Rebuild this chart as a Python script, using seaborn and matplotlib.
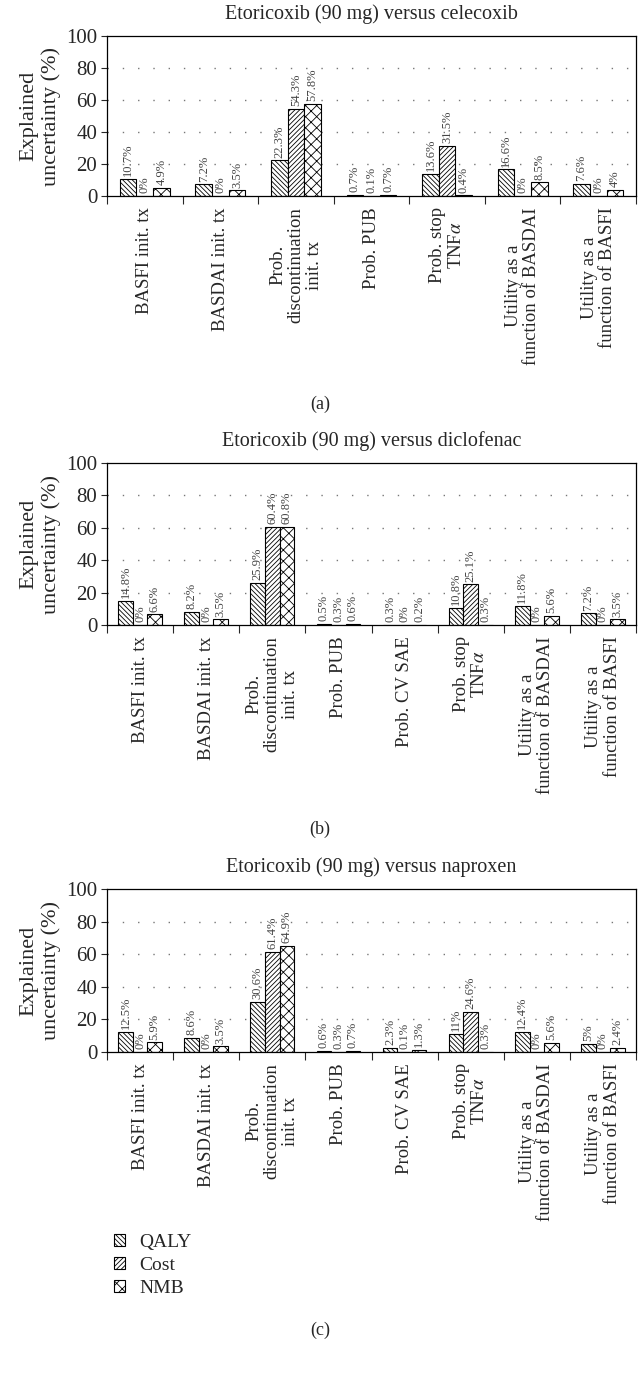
import pandas as pd
import seaborn as sns
import matplotlib.pyplot as plt
from matplotlib.patches import Patch
import numpy as np

series = ['QALY', 'Cost', 'NMB']
hatches = ['\\' * 7, '/' * 7, 'xxx']

cats_a = ['BASFI init. tx', 'BASDAI init. tx', 'Prob.\ndiscontinuation\ninit. tx', 'Prob. PUB',
          'Prob. stop\nTNF$\\alpha$', 'Utility as a\nfunction of BASDAI', 'Utility as a\nfunction of BASFI']
qaly_a = [10.7, 7.2, 22.3, 0.7, 13.6, 16.6, 7.6]
cost_a = [0, 0, 54.3, 0.1, 31.5, 0, 0]
nmb_a = [4.9, 3.5, 57.8, 0.7, 0.4, 8.5, 4]

cats_bc = ['BASFI init. tx', 'BASDAI init. tx', 'Prob.\ndiscontinuation\ninit. tx', 'Prob. PUB', 'Prob. CV SAE',
           'Prob. stop\nTNF$\\alpha$', 'Utility as a\nfunction of BASDAI', 'Utility as a\nfunction of BASFI']
qaly_b = [14.8, 8.2, 25.9, 0.5, 0.3, 10.8, 11.8, 7.2]
cost_b = [0, 0, 60.4, 0.3, 0, 25.1, 0, 0]
nmb_b = [6.6, 3.5, 60.8, 0.6, 0.2, 0.3, 5.6, 3.5]

qaly_c = [12.5, 8.6, 30.6, 0.6, 2.3, 11, 12.4, 5]
cost_c = [0, 0, 61.4, 0.3, 0.1, 24.6, 0, 0]
nmb_c = [5.9, 3.5, 64.9, 0.7, 1.3, 0.3, 5.6, 2.4]

titles = ['Etoricoxib (90 mg) versus celecoxib',
          'Etoricoxib (90 mg) versus diclofenac',
          'Etoricoxib (90 mg) versus naproxen']
panel_tags = ['(a)', '(b)', '(c)']

sns.set_style('white')
plt.rcParams['font.family'] = ['Liberation Serif', 'DejaVu Serif']
plt.rcParams['mathtext.fontset'] = 'stix'
plt.rcParams['hatch.linewidth'] = 0.6


def make_df(cats, qaly, cost, nmb):
    rows = []
    for name, vals in zip(series, [qaly, cost, nmb]):
        for c, v in zip(cats, vals):
            rows.append({'Parameter': c, 'Measure': name, 'Value': v})
    return pd.DataFrame(rows)


def draw_panel(ax, df, cats, title):
    sns.barplot(data=df, x='Parameter', y='Value', hue='Measure', order=cats, hue_order=series,
                palette=['white'] * 3, edgecolor='black', linewidth=0.8, width=0.66, gap=0,
                legend=False, ax=ax)
    for cont, h, name in zip(ax.containers, hatches, series):
        for bar in cont:
            bar.set_hatch(h)
        vals = df[df['Measure'] == name]['Value'].tolist()
        ax.bar_label(cont, labels=[f'{v:g}%' for v in vals], rotation=90, padding=2,
                     fontsize=9, color='#444444')
    n = len(cats)
    ax.set_xlim(-0.5, n - 0.5)
    ax.set_ylim(0, 100)
    ax.set_yticks([0, 20, 40, 60, 80, 100])
    ax.tick_params(axis='y', labelsize=15, length=4, width=0.8, direction='out', left=True, pad=3)
    ax.set_xticks(np.arange(n))
    ax.set_xticklabels(cats, rotation=90, ha='center', va='top', multialignment='center',
                       fontsize=13.5, linespacing=1.1)
    ax.tick_params(axis='x', which='major', length=0, pad=8)
    ax.set_xticks(np.arange(n + 1) - 0.5, minor=True)
    ax.tick_params(axis='x', which='minor', length=6, width=0.8, direction='out', bottom=True)
    for y in [20, 40, 60, 80]:
        ax.axhline(y, color='#777777', linewidth=1.0, linestyle=(0, (1, 10)), zorder=0)
    for s in ax.spines.values():
        s.set_visible(True)
        s.set_color('black')
        s.set_linewidth(0.9)
    ax.set_xlabel('')
    ax.set_ylabel('Explained\nuncertainty (%)', fontsize=16, labelpad=4)
    ax.set_title(title, fontsize=14.5, pad=12)


fig = plt.figure(figsize=(6.4, 13.73), dpi=100)
H = 1373.0
boxes = [(36, 196), (463, 625), (889, 1052)]
data = [(cats_a, qaly_a, cost_a, nmb_a), (cats_bc, qaly_b, cost_b, nmb_b), (cats_bc, qaly_c, cost_c, nmb_c)]
tag_y = [404, 829, 1330]

for (top, bot), (cats, q, c, m), title, tag, ty in zip(boxes, data, titles, panel_tags, tag_y):
    ax = fig.add_axes([107 / 640, 1 - bot / H, 529 / 640, (bot - top) / H])
    draw_panel(ax, make_df(cats, q, c, m), cats, title)
    fig.text(0.5, 1 - ty / H, tag, ha='center', va='center', fontsize=13)

handles = [Patch(facecolor='white', edgecolor='black', hatch=h, linewidth=0.8, label=s)
           for h, s in zip(hatches, series)]
fig.legend(handles=handles, loc='upper left', bbox_to_anchor=(106 / 640, 1 - 1226 / H), frameon=False,
           fontsize=14, handlelength=0.6, handleheight=0.6, handletextpad=0.7, labelspacing=0.3,
           borderaxespad=0)

fig.savefig('out.png', dpi=100)
